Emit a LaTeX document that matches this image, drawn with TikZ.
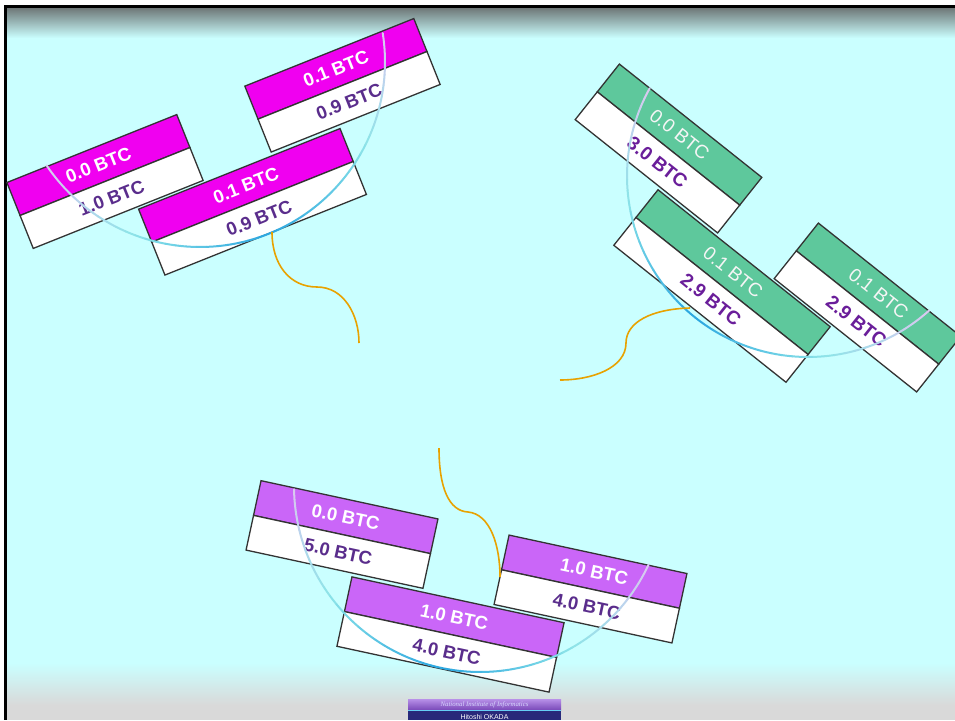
\documentclass[tikz,border=0pt]{standalone}
\usepackage{fontspec}
\setmainfont{Liberation Sans}
\newfontfamily\footserif{Liberation Serif}
\definecolor{bgcyan}{HTML}{CAFFFF}
\definecolor{topgray}{HTML}{6F7878}
\definecolor{botgray}{HTML}{D9D9D9}
\definecolor{boxline}{HTML}{333333}
\definecolor{magentabox}{HTML}{F000F0}
\definecolor{greenbox}{HTML}{5EC89C}
\definecolor{violetbox}{HTML}{CA66F8}
\definecolor{purpletxt}{HTML}{5A2D8C}
\definecolor{purpletxtg}{HTML}{6A1E9A}
\definecolor{arcblue}{HTML}{2AA6E0}
\definecolor{arccyan}{HTML}{8EE4E8}
\definecolor{arclav}{HTML}{DCC8F0}
\definecolor{orangeline}{HTML}{E8A200}
\definecolor{navy}{HTML}{28287A}
\definecolor{footlight}{HTML}{B890E8}
\definecolor{footdark}{HTML}{7848B8}
\tikzset{
  toptxt/.style={font=\bfseries\fontsize{18.5}{20}\selectfont, text=white, inner sep=0pt},
  toptxtg/.style={font=\fontsize{19}{20}\selectfont, text=white!96!black, inner sep=0pt},
  lowtxt/.style={font=\bfseries\fontsize{18.5}{20}\selectfont, text=purpletxt, inner sep=0pt},
  lowtxtg/.style={font=\bfseries\fontsize{19}{20}\selectfont, text=purpletxtg, inner sep=0pt},
  boxedge/.style={draw=boxline, line width=1.3pt},
  wire/.style={draw=orangeline, line width=1.6pt},
  foottxt/.style={inner sep=0pt, font=\footserif\fontsize{6.8}{7}\selectfont\itshape, text=white!85!blue},
  footname/.style={inner sep=0pt, font=\fontsize{7}{8}\selectfont, text=white}
}
% name, cx, cy (pixels), angle, width, fill, top text, bottom text, top style, bottom style
\newcommand{\btcbox}[9]{%
  \begin{scope}[shift={(#2,-#3)}, rotate=#4]
    \path[boxedge, fill=#6] ({-#5/2},0) rectangle ({#5/2},35.5);
    \path[boxedge, fill=white] ({-#5/2},-35.5) rectangle ({#5/2},0);
    \node[#9, rotate=#4] (#1t) at (0,17.75) {#7};
    \node[#9low, rotate=#4] (#1b) at (0,-17.75) {#8};
  \end{scope}}
\tikzset{toptxtlow/.style={lowtxt}, toptxtglow/.style={lowtxtg}}
% cx, cy (pixels), r, mid angle, half span
\newcommand{\gradarc}[5]{%
  \foreach \k in {0,...,47}{%
    \pgfmathsetmacro{\arcA}{#4-#5+2*#5*\k/48}%
    \pgfmathsetmacro{\arcB}{#4-#5+2*#5*(\k+1)/48}%
    \pgfmathsetmacro{\gt}{abs((\arcA+\arcB)/2-#4)/#5}%
    \pgfmathsetmacro{\pa}{max(0,min(100,100*(1-\gt/0.55)))}%
    \pgfmathsetmacro{\pb}{max(0,min(100,100*(1-(\gt-0.55)/0.45)))}%
    \draw[line width=2pt, line cap=round, draw=arcblue!\pa!arccyan!\pb!arclav]
      ({#1+#3*cos(\arcA)},{-#2+#3*sin(\arcA)}) arc[start angle=\arcA, end angle=\arcB, radius=#3];
  }}
\begin{document}
\begin{tikzpicture}[x=1pt,y=1pt]
\clip (0,0) rectangle (955,-720);
\fill[white] (0,0) rectangle (955,-720);
\fill[bgcyan] (7,-8) rectangle (955,-720);
\shade[top color=topgray, bottom color=bgcyan] (7,-8) rectangle (955,-38);
\shade[top color=bgcyan, bottom color=botgray] (7,-663) rectangle (955,-705);
\fill[botgray] (7,-705) rectangle (955,-720);
\fill[black] (4,-5) rectangle (955,-8);
\fill[black] (4,-5) rectangle (7,-720);

% top-left group (magenta)
\btcbox{ma}{105}{181.5}{21.8}{183}{magentabox}{0.0 BTC}{1.0 BTC}{toptxt}
\btcbox{mb}{342.5}{85.3}{21.8}{182}{magentabox}{0.1 BTC}{0.9 BTC}{toptxt}
\btcbox{mc}{252.5}{201.8}{21.8}{217}{magentabox}{0.1 BTC}{0.9 BTC}{toptxt}

% top-right group (green)
\btcbox{gd}{668.5}{148.5}{-38.5}{182}{greenbox}{0.0 BTC}{3.0 BTC}{toptxtg}
\btcbox{gf}{867.5}{307.5}{-38.5}{182}{greenbox}{0.1 BTC}{2.9 BTC}{toptxtg}
\btcbox{ge}{722}{286}{-38.5}{220}{greenbox}{0.1 BTC}{2.9 BTC}{toptxtg}

% bottom group (violet)
\btcbox{vg}{342}{534.5}{-12.2}{181}{violetbox}{0.0 BTC}{5.0 BTC}{toptxt}
\btcbox{vi}{590.5}{589}{-12.2}{182}{violetbox}{1.0 BTC}{4.0 BTC}{toptxt}
\btcbox{vh}{450.5}{634.5}{-12.2}{217}{violetbox}{1.0 BTC}{4.0 BTC}{toptxt}

% arcs
\gradarc{200}{62}{185}{291.5}{77.5}
\gradarc{808}{176}{181}{231.5}{80.5}
\gradarc{480}{486}{186}{258}{77}

% orange connectors
\coordinate (w1s) at (272,-232);
\coordinate (w1m) at (317,-287);
\coordinate (w1e) at (359,-343);
\draw[wire] (w1s) .. controls (272,-265) and (290,-287) .. (w1m)
  .. controls (344,-287) and (359,-315) .. (w1e);
\coordinate (w2s) at (690,-308);
\coordinate (w2m) at (626,-343);
\coordinate (w2e) at (560,-380);
\draw[wire] (w2s) .. controls (652,-309) and (626,-322) .. (w2m)
  .. controls (626,-368) and (592,-380) .. (w2e);
\coordinate (w3s) at (439,-448);
\coordinate (w3m) at (468,-512);
\coordinate (w3e) at (500,-577);
\draw[wire] (w3s) .. controls (439,-488) and (449,-511) .. (w3m)
  .. controls (490,-514) and (500,-545) .. (w3e);

% footer logo
\shade[top color=footlight, bottom color=footdark] (408,-699) rectangle (561,-710);
\fill[cyan!60!white] (408,-710) rectangle (561,-711.3);
\fill[navy] (408,-711.3) rectangle (561,-720);
\node[foottxt] (footinst) at (484.5,-704.5) {National Institute of Informatics};
\node[footname] (footauth) at (484.5,-717) {Hitoshi OKADA};
\end{tikzpicture}
\end{document}
